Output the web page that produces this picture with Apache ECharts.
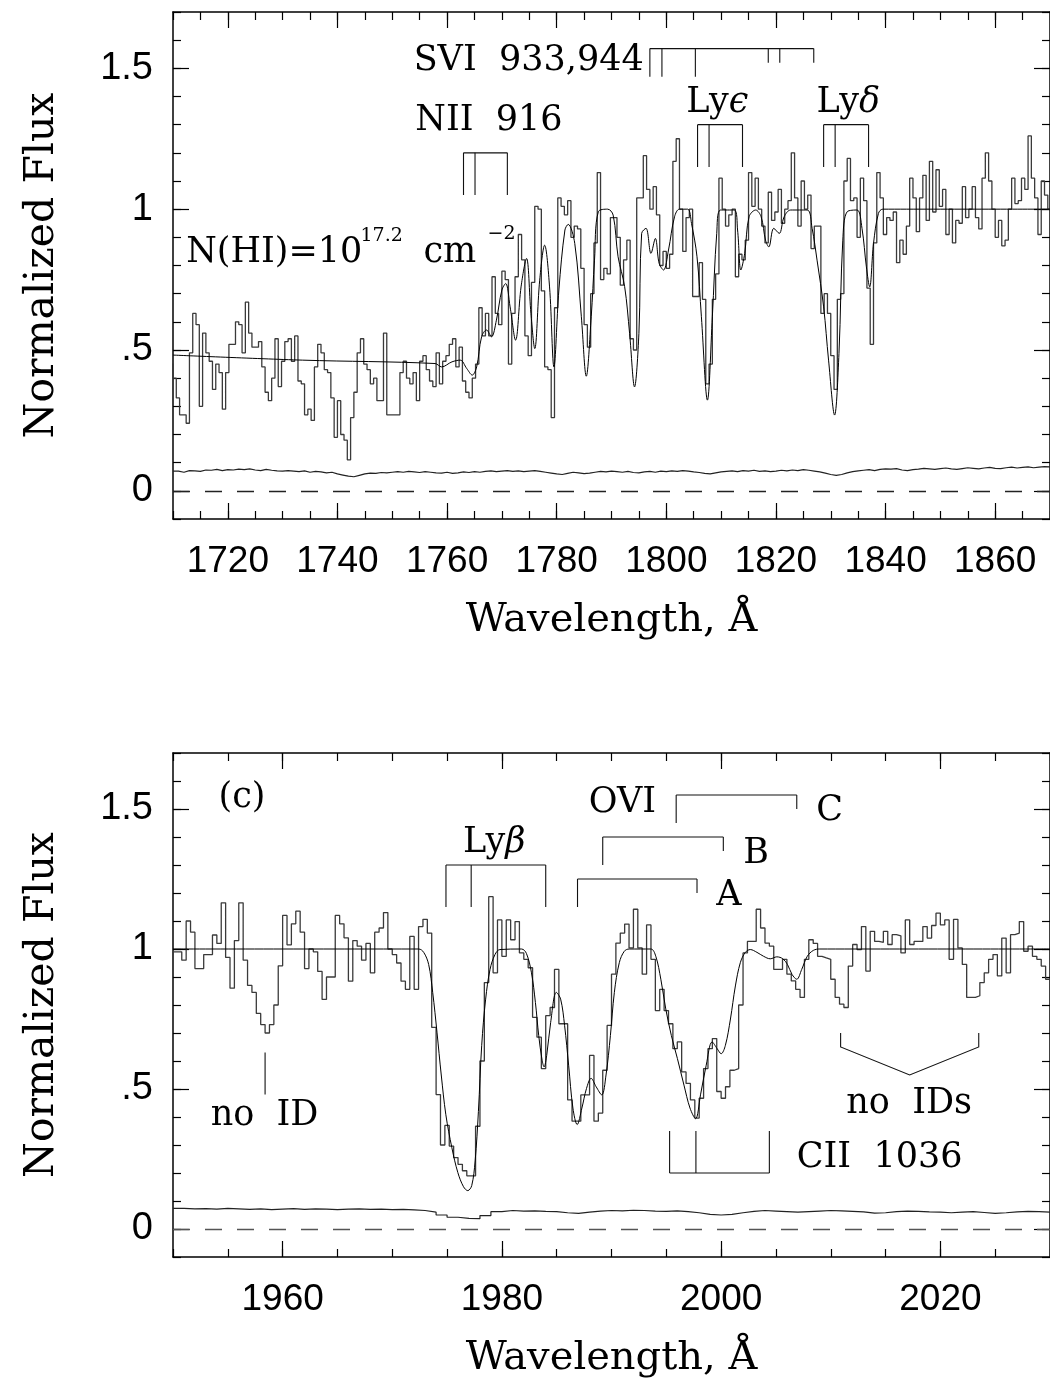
<!DOCTYPE html>
<html><head><meta charset="utf-8">
<script src="https://cdn.jsdelivr.net/npm/echarts@6/dist/echarts.min.js"></script>
<style>html,body{margin:0;padding:0;background:#fff}#c{width:1050px;height:1380px}</style>
</head><body><div id="c"></div><script>
// ---------- DATA ----------
const topRange = {min: 1710, max: 1870};
const topMajorTicks = [1720, 1740, 1760, 1780, 1800, 1820, 1840, 1860];
const botRange = {min: 1950, max: 2030};
const botMajorTicks = [1960, 1980, 2000, 2020];
const yMajorTicks = [0, 0.5, 1, 1.5];

// top panel histogram: bins of 0.6 A starting 1709.4
const topBinStart = 1709.4, topBinWidth = 0.6;
const topFlux = [
0.45,0.40,0.33,0.27,0.27,0.24,0.49,0.63,0.59,0.30,
0.56,0.49,0.46,0.36,0.45,0.42,0.29,0.42,0.52,0.52,
0.60,0.59,0.49,0.67,0.56,0.51,0.51,0.53,0.44,0.35,
0.32,0.40,0.54,0.37,0.46,0.53,0.54,0.46,0.55,0.39,
0.38,0.27,0.29,0.25,0.44,0.52,0.49,0.43,0.42,0.33,
0.19,0.32,0.20,0.18,0.11,0.26,0.35,0.49,0.54,0.45,
0.43,0.38,0.40,0.32,0.32,0.56,0.27,0.27,0.27,0.27,
0.42,0.46,0.40,0.38,0.42,0.32,0.46,0.48,0.43,0.39,
0.37,0.49,0.38,0.46,0.48,0.52,0.54,0.44,0.51,0.39,
0.35,0.33,0.40,0.45,0.65,0.55,0.63,0.55,0.76,0.63,
0.59,0.78,0.75,0.45,0.63,0.76,0.91,0.82,0.55,0.48,
0.74,1.01,1.00,0.71,0.44,0.43,0.26,0.65,1.04,1.01,
0.98,1.03,0.90,0.94,0.93,0.79,0.59,0.51,0.70,0.88,
1.13,0.75,0.79,0.77,0.97,0.97,0.90,0.73,0.82,0.89,
0.54,0.50,1.04,1.04,1.19,1.07,1.00,1.08,0.98,0.80,
0.85,0.79,0.84,1.17,1.25,1.00,0.85,0.97,1.00,0.69,
0.69,0.81,0.68,0.38,0.45,0.68,0.77,1.11,1.00,0.94,
0.98,1.00,0.76,0.84,0.82,0.89,1.13,1.01,1.11,1.00,
0.94,0.88,1.06,0.96,0.99,1.07,0.95,1.00,1.03,1.20,
1.04,0.94,1.10,1.00,1.05,0.86,0.94,0.94,0.63,0.70,
0.63,0.48,0.36,0.68,0.70,1.10,1.18,1.03,1.04,0.90,
1.11,1.03,0.72,0.52,0.88,1.13,1.04,0.91,0.97,0.96,
0.99,0.81,0.89,0.84,0.94,1.11,1.04,0.92,1.04,1.12,
0.96,1.17,0.99,1.14,1.01,1.07,0.91,1.00,0.88,0.96,
0.95,1.08,0.97,1.00,1.08,0.97,0.93,1.11,1.20,1.10,
1.00,0.90,0.96,0.87,0.89,1.00,1.11,1.02,1.03,1.11,
1.07,1.26,1.11,1.04,0.91,1.10,1.05,1.00
];
const topModel = [
[1710,0.482],[1733.6,0.464],[1757.8,0.452],[1759.0,0.440],[1760.9,0.458],[1762.4,0.464],
[1763.6,0.434],[1764.6,0.411],[1765.4,0.440],[1766.3,0.547],[1767.2,0.571],[1768.1,0.547],
[1769.0,0.606],[1770.0,0.713],[1770.7,0.736],[1771.5,0.653],[1772.5,0.535],[1773.5,0.724],
[1774.5,0.825],[1775.3,0.630],[1776.0,0.505],[1776.9,0.748],[1777.8,0.872],[1778.7,0.724],
[1779.5,0.440],[1780.4,0.713],[1781.5,0.926],[1782.1,0.946],[1783.3,0.878],[1784.5,0.618],
[1785.4,0.407],[1786.3,0.618],[1786.9,0.819],[1787.6,0.991],[1789.3,1.0],[1790.3,0.979],
[1791.2,0.831],[1792.4,0.725],[1793.3,0.559],[1794.2,0.369],[1795.0,0.559],[1795.5,0.914],
[1796.3,0.932],[1797.2,0.843],[1798.0,0.896],[1798.7,0.807],[1799.5,0.784],[1800.4,0.855],
[1801.5,0.973],[1802.4,1.0],[1803.9,1.0],[1804.6,0.949],[1805.6,0.831],[1806.4,0.618],
[1807.5,0.322],[1808.4,0.618],[1809.2,0.914],[1809.9,0.997],[1812.4,0.997],[1813.0,0.926],
[1813.6,0.784],[1814.3,0.843],[1815.1,0.973],[1816.3,0.997],[1817.3,0.973],[1818.1,0.890],
[1818.7,0.866],[1819.6,0.932],[1820.6,0.914],[1821.5,0.973],[1822.7,0.997],[1825.7,0.997],
[1826.6,0.932],[1827.5,0.819],[1828.7,0.653],[1829.6,0.464],[1830.7,0.269],[1831.5,0.488],
[1832.2,0.890],[1833.0,0.991],[1834.8,0.997],[1835.7,0.932],[1836.5,0.795],[1837.1,0.724],
[1837.8,0.878],[1838.7,0.985],[1839.5,1.0],[1870,1.0]
];
// error spectrum, 1 A bins
const topErrStart = 1710, topErrWidth = 1;
const topError = [
.070,.066,.072,.071,.069,.074,.073,.076,.072,.075,
.074,.077,.075,.078,.074,.072,.076,.073,.071,.070,
.072,.070,.068,.071,.066,.069,.067,.064,.066,.060,
.056,.052,.050,.055,.060,.063,.062,.065,.064,.066,
.068,.066,.069,.067,.065,.068,.066,.064,.063,.066,
.062,.064,.067,.065,.068,.066,.069,.071,.068,.070,
.072,.069,.071,.068,.070,.072,.069,.066,.063,.060,
.058,.062,.066,.064,.061,.063,.066,.069,.067,.070,
.068,.066,.069,.065,.064,.067,.069,.066,.070,.068,
.071,.069,.072,.070,.067,.065,.062,.060,.064,.067,
.069,.071,.068,.072,.070,.073,.069,.071,.068,.070,
.073,.071,.074,.072,.075,.073,.070,.067,.063,.058,
.055,.058,.064,.068,.071,.073,.075,.072,.076,.078,
.077,.079,.074,.072,.075,.077,.080,.078,.076,.079,
.081,.078,.076,.079,.082,.080,.078,.081,.083,.080,
.079,.082,.084,.081,.083,.085,.082,.084,.086,.085
];

// bottom panel histogram: bins of 0.4 A starting 1950.0
const botBinStart = 1950.0, botBinWidth = 0.4;
const botFlux = [
0.99,0.99,0.96,1.10,1.06,0.93,0.93,0.98,0.98,1.05,
1.02,1.165,0.97,0.86,1.03,1.165,0.96,0.87,0.845,0.77,
0.73,0.70,0.73,0.80,0.94,1.12,1.015,1.09,1.135,1.06,
0.93,1.00,0.99,0.92,0.82,0.90,0.90,1.12,1.09,1.04,
0.885,1.03,1.01,0.96,1.02,0.915,1.06,1.075,1.13,1.00,
0.98,0.95,0.885,0.856,1.045,0.856,1.08,1.106,1.057,0.72,
0.48,0.30,0.37,0.296,0.255,0.231,0.208,0.19,0.19,0.367,
0.60,0.88,1.187,0.915,1.104,0.974,1.104,1.033,1.098,0.986,
0.963,0.933,0.756,0.685,0.573,0.762,0.791,0.927,0.733,0.733,
0.461,0.385,0.385,0.479,0.479,0.62,0.385,0.414,0.567,0.727,
0.91,1.021,1.057,1.089,1.004,1.142,1.004,0.91,1.086,0.963,
0.78,0.856,0.78,0.733,0.644,0.668,0.561,0.52,0.461,0.396,
0.467,0.573,0.644,0.68,0.491,0.467,0.508,0.567,0.573,0.80,
0.986,1.027,1.027,1.142,1.075,1.021,1.01,0.927,0.927,0.963,
0.91,0.886,0.856,0.827,0.963,1.033,1.02,0.974,0.968,0.963,
0.892,0.827,0.803,0.791,0.939,1.016,0.998,1.08,0.921,1.063,
1.027,1.024,1.063,1.016,1.051,1.047,0.986,1.104,1.016,1.027,
1.027,1.08,1.039,1.084,1.128,1.086,1.104,0.963,1.106,1.004,
0.945,0.827,0.827,0.833,0.88,0.915,0.963,0.98,0.904,1.039,
0.915,1.051,1.057,1.098,0.992,1.01,0.974,0.963,0.939,0.892
];
const botModel = [
[1950,1.0],[1972.41,1.0],[1972.87,0.988],[1973.32,0.945],[1973.69,0.845],[1974.08,0.703],
[1974.47,0.550],[1974.89,0.408],[1975.44,0.290],[1975.98,0.202],[1976.50,0.151],[1976.89,0.137],
[1977.25,0.155],[1977.56,0.243],[1977.86,0.420],[1978.16,0.656],[1978.52,0.821],[1978.92,0.927],
[1979.37,0.980],[1979.82,0.998],[1981.79,1.0],[1982.24,0.984],[1982.70,0.915],[1983.06,0.809],
[1983.36,0.691],[1983.67,0.603],[1983.85,0.579],[1984.09,0.620],[1984.45,0.738],[1984.97,0.845],
[1985.36,0.821],[1985.72,0.727],[1986.09,0.585],[1986.48,0.432],[1986.87,0.373],[1987.30,0.432],
[1987.72,0.502],[1988.14,0.538],[1988.60,0.508],[1989.11,0.479],[1989.50,0.550],[1989.90,0.691],
[1990.26,0.845],[1990.71,0.951],[1991.17,0.992],[1991.62,1.0],[1993.59,1.0],[1994.04,0.974],
[1994.50,0.892],[1994.95,0.786],[1995.46,0.691],[1996.01,0.609],[1996.61,0.514],[1997.16,0.432],
[1997.67,0.394],[1998.12,0.479],[1998.64,0.585],[1999.18,0.668],[1999.64,0.644],[2000.00,0.626],
[2000.39,0.656],[2000.85,0.750],[2001.30,0.868],[2001.75,0.951],[2002.21,0.988],[2002.66,0.998],
[2003.27,0.988],[2003.87,0.974],[2004.48,0.965],[2005.08,0.972],[2005.63,0.965],[2006.05,0.945],
[2006.47,0.909],[2006.90,0.892],[2007.35,0.927],[2007.86,0.974],[2008.41,0.995],[2009.01,1.0],[2030,1.0]
];
const botErrStart = 1950, botErrWidth = 1;
const botError = [
.074,.072,.073,.071,.074,.072,.070,.072,.069,.071,
.073,.070,.072,.071,.069,.071,.072,.070,.071,.069,
.070,.068,.066,.060,.050,.042,.038,.037,.048,.062,
.066,.064,.065,.063,.062,.058,.056,.060,.064,.066,
.065,.067,.066,.064,.063,.065,.062,.058,.052,.050,
.052,.058,.063,.066,.064,.062,.060,.062,.064,.066,
.065,.063,.061,.057,.058,.062,.064,.063,.061,.060,
.058,.060,.062,.059,.056,.058,.061,.063,.062,.060
];

// line identifications (wavelengths of tick marks)
const sviBlue = [1797.0, 1799.2, 1805.3];
const sviRed = [1818.6, 1820.7, 1826.9];
const lyEps = [1805.7, 1807.8, 1813.9];
const lyDel = [1828.7, 1830.8, 1836.9];
const nii916 = [1763.0, 1765.1, 1771.0];
const lyBeta = [1974.9, 1977.2, 1984.0];
const oviA = [1986.9, 1997.8];
const oviB = [1989.2, 2000.2];
const oviC = [1995.9, 2006.9];
const cii1036 = [1995.3, 1997.7, 2004.4];
const noIDs = [2010.9, 2017.2, 2023.5];
const noID = [1958.4];

// ---------- BUILD ----------
const SERIF = '"DejaVu Serif", serif';
const SANS = '"Liberation Sans", Arial, sans-serif';
const INK = '#000';

function histo(start, w, vals) {
  const d = vals.map((v, i) => [start + i * w, v]);
  d.push([start + vals.length * w, vals[vals.length - 1]]);
  return d;
}
function seg(a, b) { return {coords: [a, b]}; }
function bracketDown(lams, yH, yEnd) {
  const out = [seg([lams[0], yH], [lams[lams.length - 1], yH])];
  lams.forEach(l => out.push(seg([l, yH], [l, yEnd])));
  return out;
}

const topSegs = [].concat(
  [seg([sviBlue[0], 1.57], [sviRed[2], 1.57])],
  sviBlue.map(l => seg([l, 1.57], [l, 1.47])),
  sviRed.map(l => seg([l, 1.57], [l, 1.52])),
  bracketDown(lyEps, 1.30, 1.15),
  bracketDown(lyDel, 1.30, 1.15),
  bracketDown(nii916, 1.20, 1.05)
);
const botSegs = [].concat(
  bracketDown(lyBeta, 1.30, 1.15),
  [seg([oviA[0], 1.25], [oviA[1], 1.25]), seg([oviA[0], 1.25], [oviA[0], 1.15]), seg([oviA[1], 1.25], [oviA[1], 1.20])],
  [seg([oviB[0], 1.40], [oviB[1], 1.40]), seg([oviB[0], 1.40], [oviB[0], 1.30]), seg([oviB[1], 1.40], [oviB[1], 1.35])],
  [seg([oviC[0], 1.55], [oviC[1], 1.55]), seg([oviC[0], 1.55], [oviC[0], 1.45]), seg([oviC[1], 1.55], [oviC[1], 1.50])],
  bracketDown(cii1036, 0.20, 0.35),
  [{coords: [[noIDs[0], 0.70], [noIDs[0], 0.65], [noIDs[1], 0.55], [noIDs[2], 0.65], [noIDs[2], 0.70]]}],
  [seg([noID[0], 0.63], [noID[0], 0.48])]
);

const annTop = [
  {t: 'SVI  933,944', x: 1753.9, y: 1.525, a: 'left'},
  {t: '{r|Ly}{g|ϵ}', x: 1809.3, y: 1.377, a: 'center'},
  {t: '{r|Ly}{g|δ}', x: 1833.2, y: 1.377, a: 'center'},
  {t: 'NII  916', x: 1754.2, y: 1.315, a: 'left'},
  {t: 'N(HI)=10', x: 1712.4, y: 0.846, a: 'left'},
  {t: '{s|17.2}', x: 1744.2, y: 0.905, a: 'left'},
  {t: 'cm', x: 1755.7, y: 0.846, a: 'left'},
  {t: '{s|−2}', x: 1767.4, y: 0.91, a: 'left'}
];
const annBot = [
  {t: '(c)', x: 1956.3, y: 1.538, a: 'center'},
  {t: '{r|Ly}{g|β}', x: 1979.3, y: 1.378, a: 'center'},
  {t: 'OVI', x: 1991.0, y: 1.522, a: 'center'},
  {t: 'C', x: 2009.9, y: 1.492, a: 'center'},
  {t: 'B', x: 2003.2, y: 1.340, a: 'center'},
  {t: 'A', x: 2000.7, y: 1.191, a: 'center'},
  {t: 'CII  1036', x: 2006.9, y: 0.255, a: 'left'},
  {t: 'no  IDs', x: 2017.15, y: 0.446, a: 'center'},
  {t: 'no  ID', x: 1958.35, y: 0.404, a: 'center'}
];

const tickStyle = {color: INK, width: 1.2};
function xAxes(g, r, major) {
  const base = {type: 'value', gridIndex: g, min: r.min, max: r.max, splitLine: {show: false},
    axisLine: {show: false, onZero: false}, axisLabel: {show: false}, axisTick: {show: false}};
  return [
    Object.assign({}, base, {position: 'bottom',
      axisLine: {show: true, onZero: false, lineStyle: {color: INK, width: 1.5}},
      axisTick: {show: true, inside: true, length: 16, customValues: major, lineStyle: tickStyle},
      axisLabel: {show: true, customValues: major, margin: 24, fontSize: 37, fontFamily: SANS, color: INK,
        formatter: v => String(v)},
      name: 'Wavelength, Å', nameLocation: 'middle', nameGap: 82,
      nameTextStyle: {fontFamily: SERIF, fontSize: 40, color: INK}}),
    Object.assign({}, base, {position: 'bottom', interval: 5,
      axisTick: {show: true, inside: true, length: 8, lineStyle: tickStyle}}),
    Object.assign({}, base, {position: 'top',
      axisLine: {show: true, onZero: false, lineStyle: {color: INK, width: 1.5}},
      axisTick: {show: true, inside: true, length: 16, customValues: major, lineStyle: tickStyle}}),
    Object.assign({}, base, {position: 'top', interval: 5,
      axisTick: {show: true, inside: true, length: 8, lineStyle: tickStyle}})
  ];
}
function yAxes(g) {
  const base = {type: 'value', gridIndex: g, min: -0.1, max: 1.7, splitLine: {show: false},
    axisLine: {show: false, onZero: false}, axisLabel: {show: false}, axisTick: {show: false}};
  return [
    Object.assign({}, base, {position: 'left',
      axisLine: {show: true, onZero: false, lineStyle: {color: INK, width: 1.5}},
      axisTick: {show: true, inside: true, length: 16, customValues: yMajorTicks, lineStyle: tickStyle},
      axisLabel: {show: true, customValues: yMajorTicks, margin: 20, fontSize: 38, fontFamily: SANS, color: INK,
        formatter: v => (v === 0 ? '0' : v === 0.5 ? '.5' : v === 1 ? '1' : '1.5')},
      name: 'Normalized Flux', nameLocation: 'middle', nameGap: 110,
      nameTextStyle: {fontFamily: SERIF, fontSize: 41, color: INK}}),
    Object.assign({}, base, {position: 'left', interval: 0.1,
      axisTick: {show: true, inside: true, length: 8, lineStyle: tickStyle}}),
    Object.assign({}, base, {position: 'right',
      axisLine: {show: true, onZero: false, lineStyle: {color: INK, width: 1.5}},
      axisTick: {show: true, inside: true, length: 16, customValues: yMajorTicks, lineStyle: tickStyle}}),
    Object.assign({}, base, {position: 'right', interval: 0.1,
      axisTick: {show: true, inside: true, length: 8, lineStyle: tickStyle}})
  ];
}

function panelSeries(g, flux, start, w, model, err, eStart, eW, segs, ann, dashColor) {
  const xi = 4 * g, yi = 4 * g;
  const txt = {fontFamily: SERIF, fontSize: 35, color: '#000', opacity: 1};
  return [
    {type: 'line', xAxisIndex: xi, yAxisIndex: yi, data: histo(start, w, flux), step: 'end',
      symbol: 'none', silent: true, lineStyle: {color: '#3a3a3a', width: 1.3}, z: 3,
      markLine: {silent: true, symbol: 'none', label: {show: false},
        lineStyle: {color: dashColor, width: 1.3, type: [17, 15]}, data: [{yAxis: 0}]}},
    {type: 'line', xAxisIndex: xi, yAxisIndex: yi, data: model, smooth: 0.35, symbol: 'none', silent: true,
      lineStyle: {color: INK, width: 1}, z: 4},
    {type: 'line', xAxisIndex: xi, yAxisIndex: yi, data: histo(eStart, eW, err), step: 'end',
      symbol: 'none', silent: true, lineStyle: {color: '#222', width: 1.2}, z: 3},
    {type: 'lines', coordinateSystem: 'cartesian2d', xAxisIndex: xi, yAxisIndex: yi, polyline: true,
      silent: true, data: segs, lineStyle: {color: '#111', width: 1.1, opacity: 1}, z: 5},
    {type: 'scatter', xAxisIndex: xi, yAxisIndex: yi, symbolSize: 1, silent: true, z: 6,
      itemStyle: {color: 'rgba(0,0,0,0)'},
      data: ann.map(a => ({value: [a.x, a.y],
        label: Object.assign({show: true, position: 'inside', formatter: a.t, align: a.a, verticalAlign: 'middle',
          rich: {r: Object.assign({}, txt),
                 g: Object.assign({}, txt, {fontStyle: 'italic'}),
                 s: Object.assign({}, txt, {fontSize: 19})}}, txt)}))}
  ];
}

const chart = echarts.init(document.getElementById('c'), null, {renderer: 'canvas'});
chart.setOption({
  animation: false,
  backgroundColor: '#fff',
  grid: [
    {left: 173, top: 12, width: 881, height: 507},
    {left: 173, top: 753, width: 881, height: 509}
  ],
  xAxis: [].concat(xAxes(0, topRange, topMajorTicks), xAxes(1, botRange, botMajorTicks)),
  yAxis: [].concat(yAxes(0), yAxes(1)),
  series: [].concat(
    panelSeries(0, topFlux, topBinStart, topBinWidth, topModel, topError, topErrStart, topErrWidth, topSegs, annTop, '#222'),
    panelSeries(1, botFlux, botBinStart, botBinWidth, botModel, botError, botErrStart, botErrWidth, botSegs, annBot, '#555')
  )
});
</script></body></html>
